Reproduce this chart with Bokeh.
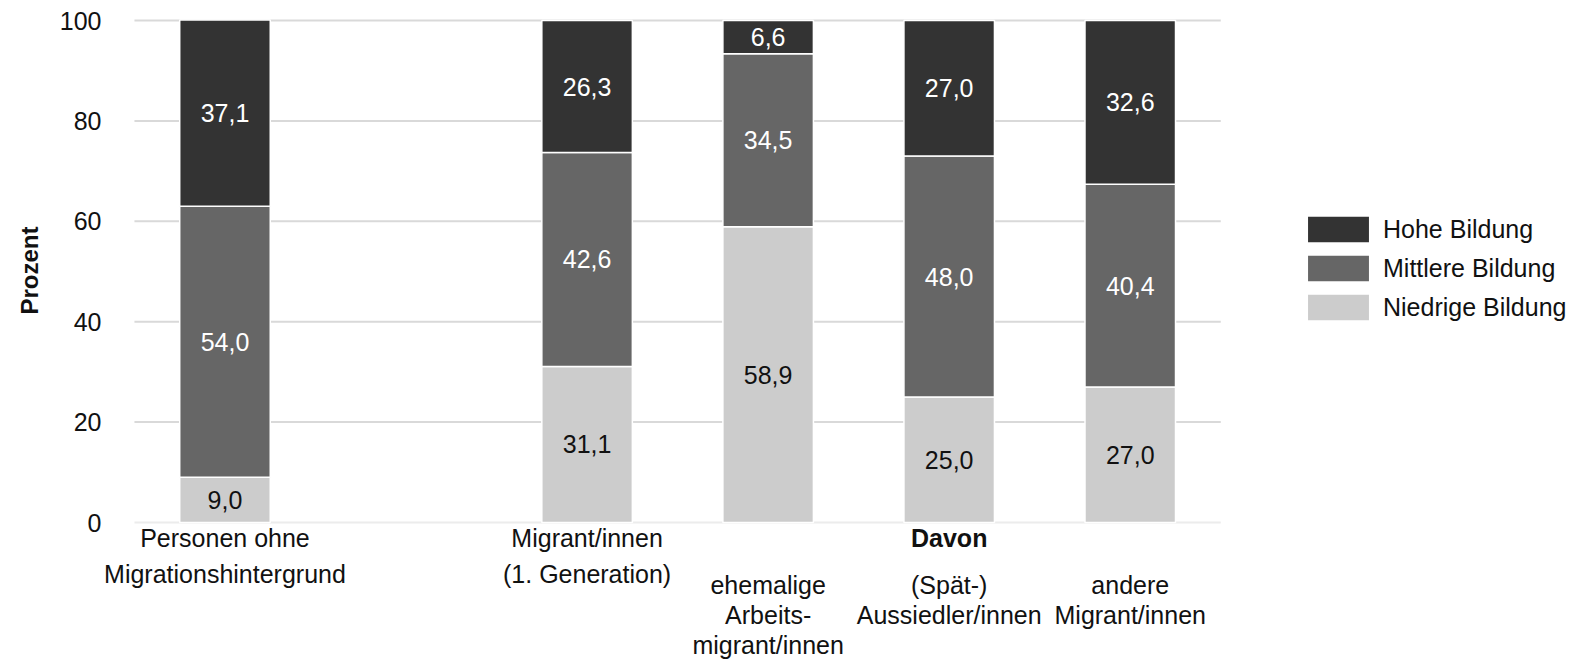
from bokeh.plotting import figure
from bokeh.models import (Range1d, Legend, LegendItem, FixedTicker, ColumnDataSource, Title)
from bokeh.core.properties import value
from bokeh.embed import file_html
from bokeh.resources import INLINE

# ---- data ----
groups = ["Personen ohne Migrationshintergrund", "Migrant/innen (1. Generation)",
          "ehemalige Arbeitsmigrant/innen", "(Spät-) Aussiedler/innen", "andere Migrant/innen"]
niedrig = [9.0, 31.1, 58.9, 25.0, 27.0]
mittel = [54.0, 42.6, 34.5, 48.0, 40.4]
hoch = [37.1, 26.3, 6.6, 27.0, 32.6]
series_names = ["Niedrige Bildung", "Mittlere Bildung", "Hohe Bildung"]
y_ticks = [0, 20, 40, 60, 80, 100]
# tick label lines per group
label_lines = [["Personen ohne", "Migrationshintergrund"],
               ["Migrant/innen", "(1. Generation)"],
               ["ehemalige", "Arbeits-", "migrant/innen"],
               ["(Spät-)", "Aussiedler/innen"],
               ["andere", "Migrant/innen"]]
group_header = "Davon"

# ---- layout / style ----
slots = [0.5, 2.5, 3.5, 4.5, 5.5]
n_slots = 6
colors = ["#cccccc", "#666666", "#333333"]
text_colors = ["#111111", "#ffffff", "#ffffff"]
FONT = "Liberation Sans"
FS = "25px"
PX_X = 181.3   # px per x unit
PX_Y = 5.02    # px per percent
W, H = 1570, 663
BL, BT = 100, 17
GAP_LEFT = 32  # px between frame left and first slot

x0 = -GAP_LEFT / PX_X
x1 = x0 + (W - BL) / PX_X
y1 = 100 + 3 / PX_Y
y0 = y1 - (H - BT) / PX_Y

src = ColumnDataSource(dict(x=slots, niedrig=niedrig, mittel=mittel, hoch=hoch))

p = figure(width=W, height=H, output_backend="svg", toolbar_location=None,
           x_range=Range1d(x0, x1), y_range=Range1d(y0, y1),
           min_border_left=BL, min_border_right=0, min_border_top=BT,
           min_border_bottom=0)
p.outline_line_color = None
p.xaxis.visible = False
p.grid.visible = False

# grid lines across the category slots only
p.segment(x0=[0] * (len(y_ticks) - 1), x1=[n_slots] * (len(y_ticks) - 1),
          y0=y_ticks[1:], y1=y_ticks[1:], line_color="#d9d9d9", line_width=2)
p.segment(x0=[0], x1=[n_slots], y0=[0], y1=[0], line_color="#ececec", line_width=2)

rs = p.vbar_stack(["niedrig", "mittel", "hoch"], x="x", width=0.5, source=src,
                  fill_color=colors, line_color="white", line_width=1.5)

# value labels
xs, ys, ts, cs = [], [], [], []
stacks = [niedrig, mittel, hoch]
for i, xv in enumerate(slots):
    base = 0.0
    for k in range(3):
        v = stacks[k][i]
        xs.append(xv)
        ys.append(base + v / 2)
        ts.append(f"{v:.1f}".replace(".", ","))
        cs.append(text_colors[k])
        base += v
p.text(x=xs, y=ys, text=ts, text_color=cs, text_align="center", text_baseline="middle",
       text_font=value(FONT), text_font_size=FS)

# y axis
ya = p.yaxis[0]
ya.ticker = FixedTicker(ticks=y_ticks)
ya.axis_line_color = None
ya.major_tick_line_color = None
ya.minor_tick_line_color = None
ya.major_tick_out = 0
ya.major_tick_in = 0
ya.major_label_standoff = 1
ya.major_label_text_font = FONT
ya.major_label_text_font_size = FS
ya.major_label_text_color = "#111111"

# axis title (top end placed so that it is centred on the 0..100 range)
p.add_layout(Title(text="Prozent", align="right", offset=209,
                   text_font=FONT, text_font_size="24px", text_font_style="bold",
                   text_color="#111111", standoff=27), "left")

# category labels below the bars (line centres in px below the zero line)
lx, ly, lt = [], [], []
for i, lines in enumerate(label_lines):
    offs = [15, 51] if i < 2 else [62, 92, 122]
    for j, t in enumerate(lines):
        lx.append(slots[i]); ly.append(-offs[j] / PX_Y); lt.append(t)
p.text(x=lx, y=ly, text=lt, text_align="center", text_baseline="middle",
       text_font=value(FONT), text_font_size=FS, text_color="#111111")
p.text(x=[slots[3]], y=[-15 / PX_Y], text=[group_header], text_align="center",
       text_baseline="middle", text_font=value(FONT), text_font_size=FS,
       text_font_style="bold", text_color="#111111")

legend = Legend(items=[LegendItem(label=series_names[2], renderers=[rs[2]]),
                       LegendItem(label=series_names[1], renderers=[rs[1]]),
                       LegendItem(label=series_names[0], renderers=[rs[0]])],
                location=(1197, 339), glyph_width=78, glyph_height=34, spacing=5,
                padding=0, margin=0, label_standoff=6, border_line_color=None,
                background_fill_alpha=0, label_text_font=FONT, label_text_font_size=FS,
                label_text_color="#111111", label_height=27)
p.add_layout(legend, "center")

open("out.html", "w").write(file_html(p, INLINE))
